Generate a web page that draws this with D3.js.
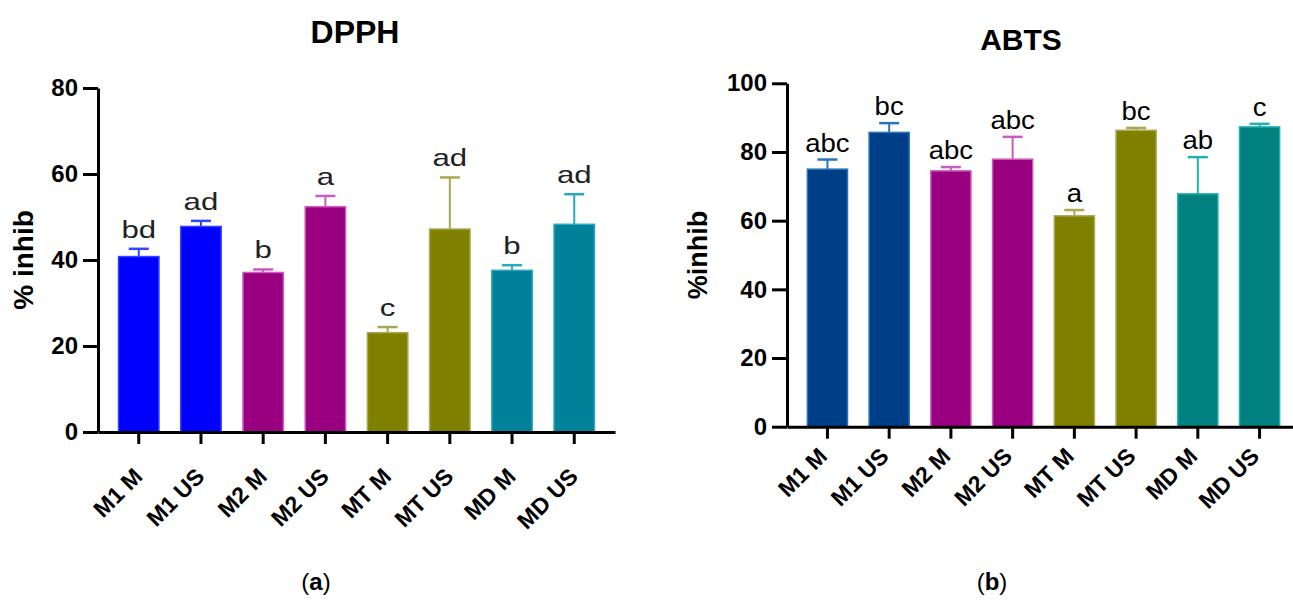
<!DOCTYPE html>
<html>
<head>
<meta charset="utf-8">
<script src="https://cdn.jsdelivr.net/npm/d3@7/dist/d3.min.js"></script>
<style>
  html, body { margin: 0; padding: 0; background: #fff; }
  svg { display: block; }
  text { font-family: Arial, "Liberation Sans", Helvetica, sans-serif; }
</style>
</head>
<body>
<svg id="chart" width="1293" height="600"></svg>
<script>
// ---- Data ----
const categories = ["M1 M", "M1 US", "M2 M", "M2 US", "MT M", "MT US", "MD M", "MD US"];

const dpphValues = [40.8, 47.8, 37.1, 52.4, 23.1, 47.2, 37.6, 48.3];
const dpphErrors = [1.8, 1.3, 0.7, 2.5, 1.3, 12.0, 1.2, 7.0];
const dpphLetters = ["bd", "ad", "b", "a", "c", "ad", "b", "ad"];
const dpphTicks = [0, 20, 40, 60, 80];

const abtsValues = [75.0, 85.7, 74.5, 77.9, 61.4, 86.3, 67.8, 87.3];
const abtsErrors = [2.8, 2.7, 1.1, 6.5, 1.7, 0.7, 10.7, 0.9];
const abtsLetters = ["abc", "bc", "abc", "abc", "a", "bc", "ab", "c"];
const abtsTicks = [0, 20, 40, 60, 80, 100];

// ---- Styles ----
const dpphFill   = ["#0000ff", "#0000ff", "#990080", "#990080", "#808000", "#808000", "#008099", "#008099"];
const dpphStroke = ["#3344ff", "#3344ff", "#cc5cbb", "#cc5cbb", "#a8a850", "#a8a850", "#2aa8c0", "#2aa8c0"];
const abtsFill   = ["#003f87", "#003f87", "#990080", "#990080", "#808000", "#808000", "#00807f", "#00807f"];
const abtsStroke = ["#2a74b8", "#2a74b8", "#cc5cbb", "#cc5cbb", "#a8a850", "#a8a850", "#22b0b0", "#22b0b0"];

const svg = d3.select("#chart");

function drawPanel(cfg) {
  const g = svg.append("g");
  const x = d3.scaleBand().domain(categories)
    .range([cfg.x0, cfg.x1]).paddingInner(0.35).paddingOuter(0.33);
  const y = d3.scaleLinear().domain(cfg.domain).range([cfg.yBot, cfg.yTop]);

  // bars
  g.selectAll("rect.bar").data(categories).enter().append("rect")
    .attr("x", d => x(d))
    .attr("y", (d, i) => y(cfg.values[i]))
    .attr("width", x.bandwidth())
    .attr("height", (d, i) => y(0) - y(cfg.values[i]))
    .attr("fill", (d, i) => cfg.fill[i])
    .attr("stroke", (d, i) => cfg.stroke[i])
    .attr("stroke-width", 1.5);

  // error bars
  const cx = d => x(d) + x.bandwidth() / 2;
  g.selectAll("line.err").data(categories).enter().append("line")
    .attr("x1", cx).attr("x2", cx)
    .attr("y1", (d, i) => y(cfg.values[i]))
    .attr("y2", (d, i) => y(cfg.values[i] + cfg.errors[i]))
    .attr("stroke", (d, i) => cfg.stroke[i]).attr("stroke-width", 2);
  g.selectAll("line.cap").data(categories).enter().append("line")
    .attr("x1", d => cx(d) - 10).attr("x2", d => cx(d) + 10)
    .attr("y1", (d, i) => y(cfg.values[i] + cfg.errors[i]))
    .attr("y2", (d, i) => y(cfg.values[i] + cfg.errors[i]))
    .attr("stroke", (d, i) => cfg.stroke[i]).attr("stroke-width", 2.5);

  // letters
  g.selectAll("text.lbl").data(categories).enter().append("text")
    .attr("transform", (d, i) =>
      `translate(${cx(d)},${y(cfg.values[i] + cfg.errors[i]) - cfg.letGap}) scale(${cfg.letSx},1)`)
    .attr("text-anchor", "middle")
    .attr("font-size", cfg.letSize)
    .attr("fill", cfg.letColor)
    .text((d, i) => cfg.letters[i]);

  // y axis
  const ya = g.append("g").attr("transform", `translate(${cfg.x0},0)`)
    .call(d3.axisLeft(y).tickValues(cfg.ticks).tickSize(15).tickSizeOuter(0).tickPadding(5));
  ya.select(".domain").attr("stroke", "#000").attr("stroke-width", 3);
  ya.selectAll(".tick line").attr("stroke", "#000").attr("stroke-width", 3);
  ya.selectAll(".tick text").attr("font-size", 24).attr("font-weight", "bold")
    .attr("fill", "#000").attr("font-family", "Arial, 'Liberation Sans', sans-serif");

  // x axis
  const xa = g.append("g").attr("transform", `translate(0,${cfg.yBot})`)
    .call(d3.axisBottom(x).tickSize(12).tickSizeOuter(0));
  xa.select(".domain").attr("stroke", "#000").attr("stroke-width", 3);
  xa.selectAll(".tick line").attr("stroke", "#000").attr("stroke-width", 3);
  xa.selectAll(".tick text")
    .attr("font-size", 23).attr("font-weight", "bold").attr("fill", "#000")
    .attr("font-family", "Arial, 'Liberation Sans', sans-serif")
    .attr("text-anchor", "end")
    .attr("y", 0).attr("dy", 0)
    .attr("transform", `translate(${cfg.lblDx},${cfg.lblDy}) rotate(-45)`);

  // title
  g.append("text").attr("x", cfg.titleX).attr("y", cfg.titleY)
    .attr("text-anchor", "middle").attr("font-size", cfg.titleSize).attr("font-weight", "bold")
    .attr("fill", "#000").text(cfg.title);

  // y label
  g.append("text")
    .attr("transform", `translate(${cfg.ylabX},${cfg.ylabY}) rotate(-90)`)
    .attr("text-anchor", "middle").attr("font-size", cfg.ylabSize).attr("font-weight", "bold")
    .attr("fill", "#000").text(cfg.ylabel);

  // caption
  const cap = g.append("text").attr("x", cfg.capX).attr("y", 590)
    .attr("text-anchor", "middle").attr("font-size", 24)
    .attr("font-family", "'Liberation Serif', 'Times New Roman', serif").attr("fill", "#000");
  cap.append("tspan").text("(");
  cap.append("tspan").attr("font-weight", "bold").text(cfg.capLetter);
  cap.append("tspan").text(")");
}

drawPanel({
  x0: 98, x1: 615, yTop: 88, yBot: 432, domain: [0, 80],
  values: dpphValues, errors: dpphErrors, letters: dpphLetters, ticks: dpphTicks,
  fill: dpphFill, stroke: dpphStroke,
  letSize: 24, letSx: 1.3, letGap: 11, letColor: "#222",
  title: "DPPH", titleX: 355, titleY: 43, titleSize: 32,
  ylabel: "% inhib", ylabX: 33, ylabY: 260, ylabSize: 28,
  lblDx: 5, lblDy: 46, capX: 316, capLetter: "a"
});

drawPanel({
  x0: 787, x1: 1300, yTop: 83.3, yBot: 426.7, domain: [0, 100],
  values: abtsValues, errors: abtsErrors, letters: abtsLetters, ticks: abtsTicks,
  fill: abtsFill, stroke: abtsStroke,
  letSize: 26, letSx: 1.06, letGap: 8, letColor: "#000",
  title: "ABTS", titleX: 1021, titleY: 50, titleSize: 30,
  ylabel: "%inhib", ylabX: 707, ylabY: 255, ylabSize: 27,
  lblDx: 1, lblDy: 31, capX: 992, capLetter: "b"
});
</script>
</body>
</html>
